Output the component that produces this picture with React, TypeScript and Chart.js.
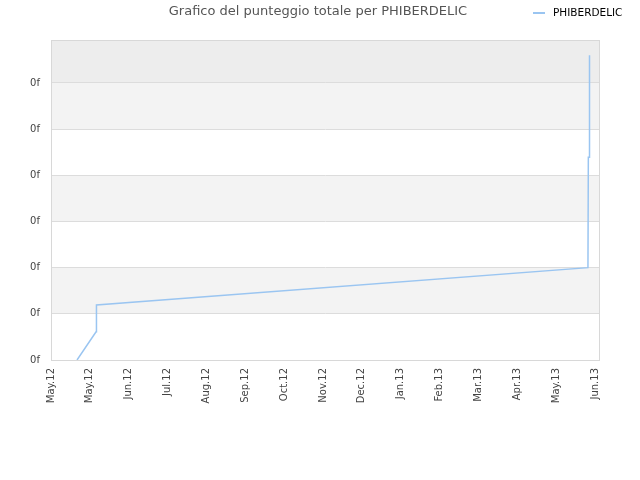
import { useEffect, useRef } from "react";
import { Chart, registerables, type ChartConfiguration, type Plugin } from "chart.js";

Chart.register(...registerables);

// month labels along the bottom (one per tick)
const monthLabels = [
  "May.12", "May.12", "Jun.12", "Jul.12", "Aug.12", "Sep.12", "Oct.12",
  "Nov.12", "Dec.12", "Jan.13", "Feb.13", "Mar.13", "Apr.13", "May.13", "Jun.13",
];

// series points: x = position in month ticks, y = score
const scoreX = [0.67, 1.16, 1.17, 13.82, 13.83, 13.85, 13.86];
const scoreY = [0, 0.61, 1.19, 2.0, 4.39, 4.39, 6.6];

const yTickLabel = "0f";
const seriesName = "PHIBERDELIC";
const titleText = "Grafico del punteggio totale per PHIBERDELIC";

const FONT = "'DejaVu Sans', Verdana, sans-serif";
const LINE_COLOR = "#9ac5f1";

const bandsPlugin: Plugin<"line"> = {
  id: "bands",
  beforeDraw(chart) {
    const { ctx, chartArea: a, scales } = chart;
    const y = scales.y;
    ctx.save();
    ctx.fillStyle = "#ffffff";
    ctx.fillRect(a.left, a.top, a.right - a.left, a.bottom - a.top);
    for (let i = 0; i < 7; i++) {
      const top = i === 6 ? a.top : y.getPixelForValue(i + 1);
      const bottom = y.getPixelForValue(i);
      const color = i === 6 ? "#ededed" : i % 2 === 1 ? "#f3f3f3" : "#ffffff";
      ctx.fillStyle = color;
      ctx.fillRect(a.left, top, a.right - a.left, bottom - top);
    }
    ctx.restore();
  },
  afterDraw(chart) {
    const { ctx, chartArea: a } = chart;
    ctx.save();
    ctx.strokeStyle = "#d8d8d8";
    ctx.lineWidth = 1;
    ctx.strokeRect(a.left + 0.5, a.top + 0.5, a.right - a.left - 1, a.bottom - a.top);
    // title
    ctx.fillStyle = "#555555";
    ctx.font = `13px ${FONT}`;
    ctx.textAlign = "center";
    ctx.textBaseline = "middle";
    ctx.fillText(titleText, 318, 12);
    // legend
    ctx.strokeStyle = LINE_COLOR;
    ctx.lineWidth = 2;
    ctx.beginPath();
    ctx.moveTo(533, 13);
    ctx.lineTo(545, 13);
    ctx.stroke();
    ctx.fillStyle = "#000000";
    ctx.font = `10.5px ${FONT}`;
    ctx.textAlign = "left";
    ctx.fillText(seriesName, 553, 13);
    ctx.restore();
  },
};

export default function App() {
  const canvasRef = useRef<HTMLCanvasElement>(null);

  useEffect(() => {
    if (!canvasRef.current) return;
    const config: ChartConfiguration<"line"> = {
      type: "line",
      data: {
        datasets: [
          {
            label: seriesName,
            data: scoreX.map((x, i) => ({ x, y: scoreY[i] })),
            borderColor: LINE_COLOR,
            borderWidth: 1.5,
            pointRadius: 0,
            tension: 0,
            fill: false,
          },
        ],
      },
      options: {
        responsive: false,
        animation: false,
        layout: { padding: { left: 0, top: 40, right: 40, bottom: 60 } },
        plugins: {
          legend: { display: false },
          title: { display: false },
          tooltip: { enabled: false },
        },
        scales: {
          x: {
            type: "linear",
            min: 0,
            max: 14.13,
            grid: { display: false, drawTicks: false },
            border: { display: false },
            afterBuildTicks: (axis) => {
              axis.ticks = monthLabels.map((_, i) => ({ value: i }));
            },
            afterFit: (axis) => {
              axis.height = 60;
            },
            ticks: {
              stepSize: 1,
              minRotation: 90,
              maxRotation: 90,
              autoSkip: false,
              padding: 8,
              color: "#444444",
              font: { family: FONT, size: 10 },
              callback: (v) => monthLabels[Number(v)] ?? "",
            },
          },
          y: {
            type: "linear",
            min: 0,
            max: 6.93,
            grid: { color: "#dcdcdc", drawTicks: false },
            border: { display: false },
            afterBuildTicks: (axis) => {
              axis.ticks = axis.ticks.filter((t) => Number.isInteger(t.value));
            },
            afterFit: (axis) => {
              axis.width = 51;
            },
            ticks: {
              stepSize: 1,
              padding: 11,
              color: "#444444",
              font: { family: FONT, size: 10 },
              callback: () => yTickLabel,
            },
          },
        },
      },
      plugins: [bandsPlugin],
    };
    const chart = new Chart(canvasRef.current, config);
    return () => chart.destroy();
  }, []);

  return (
    <div style={{ position: "fixed", left: 0, top: 0, width: 640, height: 480, background: "#fff" }}>
      <canvas ref={canvasRef} width={640} height={480} style={{ width: 640, height: 480 }} />
    </div>
  );
}
